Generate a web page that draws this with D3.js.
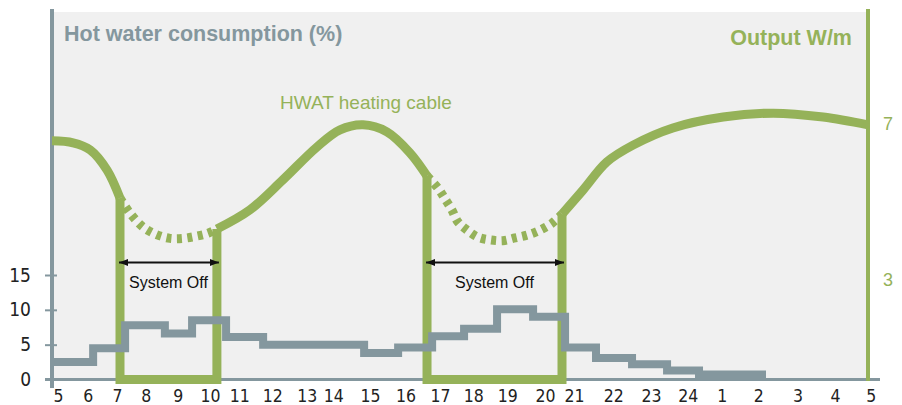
<!DOCTYPE html>
<html>
<head>
<meta charset="utf-8">
<script src="https://cdn.jsdelivr.net/npm/d3@7"></script>
<style>
  body { margin: 0; background: #fff; }
  svg { display: block; }
  .num { font-family: "Liberation Sans Narrow", "DejaVu Sans Condensed", sans-serif; font-size: 19px; fill: #222; }
  .hr { font-size: 17.5px; }
</style>
</head>
<body>
<script>
// hours since 5:00, x axis labels sit where they were put by hand
var hourLabels = ["5","6","7","8","9","10","11","12","13","14","15","16","17","18","19","20","21","22","23","24","1","2","3","4","5"];
var labelAt = [0.18,1.05,1.91,2.76,3.70,4.65,5.51,6.48,7.49,8.27,9.35,10.4,11.41,12.39,13.39,14.5,15.35,16.51,17.62,18.7,19.7,20.77,21.93,23.03,24.08];

// hot water consumption (%) step line
var stepEdges = [0,1.21,2.15,3.32,4.12,5.12,6.21,9.18,10.18,11.18,12.12,13.09,14.15,15.09,16.0,17.06,18.09,19.03,21.0];
var consumption = [2.5,4.5,7.8,6.6,8.5,6.1,5.0,3.8,4.6,6.2,7.3,10.1,9.0,4.6,3.1,2.2,1.3,0.7];

// HWAT heating cable output (W/m)
var cableHours = [0,0.62,1.12,1.62,2.0,2.29,2.68,3.09,3.47,3.85,4.21,4.59,4.85,5.82,6.79,7.79,8.47,9.15,9.85,10.53,11.03,11.35,11.56,11.76,11.94,12.21,12.53,12.88,13.26,13.62,14.0,14.35,14.71,15.0,15.62,16.32,17.09,18.26,19.74,21.21,22.68,24.0];
var cableOutput = [6.55,6.50,6.32,5.80,5.08,4.70,4.34,4.14,4.05,4.05,4.10,4.18,4.29,4.78,5.55,6.39,6.83,6.96,6.78,6.24,5.65,5.34,5.06,4.78,4.47,4.26,4.08,4.01,3.99,4.06,4.14,4.26,4.44,4.67,5.29,6.01,6.44,6.88,7.16,7.26,7.16,6.96];

var offPeriods = [[2.0,4.85],[11.03,15.0]];
var leftTicks = [0,5,10,15];
var rightTicks = [3,7];

var green = "#95b259", grey = "#84979e";

var svg = d3.select("body").append("svg")
    .attr("width", 902)
    .attr("height", 405);

var x = d3.scaleLinear().domain([0,24]).range([52,868]);
var yL = d3.scaleLinear().domain([0,15]).range([379.5,275]);
var yR = d3.scaleLinear().domain([3,7]).range([279.3,123.3]);

// plot area
svg.append("rect")
    .attr("x", x(0)).attr("y", 12)
    .attr("width", x(24)-x(0)).attr("height", 369)
    .attr("fill", "#f0f0f0");

// base line
svg.append("line")
    .attr("x1", 45).attr("x2", 880)
    .attr("y1", yL(0)).attr("y2", yL(0))
    .attr("stroke", grey).attr("stroke-width", 3);

// axes lines
svg.append("line")
    .attr("x1", x(0)).attr("x2", x(0)).attr("y1", 9).attr("y2", 388)
    .attr("stroke", grey).attr("stroke-width", 4);
svg.append("line")
    .attr("x1", x(24)).attr("x2", x(24)).attr("y1", 9).attr("y2", 381)
    .attr("stroke", green).attr("stroke-width", 4);

var gl = svg.append("g")
    .attr("transform", "translate(57,0)")
    .call(d3.axisLeft(yL).tickValues(leftTicks).tickSize(12).tickPadding(14));
gl.select(".domain").remove();
gl.selectAll("line").attr("stroke", grey).attr("stroke-width", 2);
gl.selectAll("text").attr("class", "num").attr("font-size", null).attr("font-family", null);

var gb = svg.append("g")
    .attr("transform", "translate(0," + yL(0) + ")")
    .call(d3.axisBottom(x).tickValues(labelAt).tickSize(0).tickPadding(10)
      .tickFormat(function(d, i) { return hourLabels[i]; }));
gb.select(".domain").remove();
gb.selectAll("text").attr("class", "num hr").attr("font-size", null).attr("font-family", null);

var gr = svg.append("g")
    .attr("transform", "translate(" + x(24) + ",0)")
    .call(d3.axisRight(yR).tickValues(rightTicks).tickSize(0).tickPadding(15)
      .tickFormat(d3.format("d")));
gr.select(".domain").remove();
gr.selectAll("text")
    .attr("font-family", "'Liberation Sans', Arial, sans-serif")
    .attr("font-size", 18)
    .attr("fill", green);

// heating cable curve, dashed while the system is off
var cable = cableHours.map(function(h, i) { return [h, cableOutput[i]]; });
var bounds = [0].concat(offPeriods[0], offPeriods[1], [24]);
var cableLine = d3.line()
    .x(function(d) { return x(d[0]); })
    .y(function(d) { return yR(d[1]); })
    .curve(d3.curveCatmullRom);
for (var i = 0; i < bounds.length - 1; i++) {
  var seg = cable.filter(function(d) { return d[0] >= bounds[i] && d[0] <= bounds[i+1]; });
  svg.append("path")
      .attr("d", cableLine(seg))
      .attr("fill", "none")
      .attr("stroke", green)
      .attr("stroke-width", 9)
      .attr("stroke-dasharray", i % 2 ? "5,5.5" : null);
}

// system off boxes
var outAt = function(h) { return cableOutput[cableHours.indexOf(h)]; };
offPeriods.forEach(function(p) {
  var a = p[0], b = p[1];
  svg.append("path")
      .attr("d", "M" + x(a) + "," + yR(outAt(a)) + "L" + x(a) + "," + yL(0) +
                 "L" + x(b) + "," + yL(0) + "L" + x(b) + "," + yR(outAt(b)))
      .attr("fill", "none")
      .attr("stroke", green)
      .attr("stroke-width", 9)
      .attr("stroke-linejoin", "miter");
});

// consumption steps
var steps = stepEdges.map(function(e, i) {
  return [e, consumption[Math.min(i, consumption.length - 1)]];
});
svg.append("path")
    .attr("d", d3.line()
      .x(function(d) { return x(d[0]); })
      .y(function(d) { return yL(d[1]); })
      .curve(d3.curveStepAfter)(steps))
    .attr("fill", "none")
    .attr("stroke", grey)
    .attr("stroke-width", 8);

// arrows + labels
var defs = svg.append("defs");
["s","e"].forEach(function(k) {
  defs.append("marker")
      .attr("id", "arr-" + k)
      .attr("viewBox", "0 0 10 10")
      .attr("refX", k == "e" ? 10 : 0).attr("refY", 5)
      .attr("markerWidth", 9).attr("markerHeight", 9)
      .attr("markerUnits", "userSpaceOnUse")
      .attr("orient", "auto")
    .append("path")
      .attr("d", k == "e" ? "M0,1L10,5L0,9Z" : "M10,1L0,5L10,9Z")
      .attr("fill", "#111");
});
offPeriods.forEach(function(p) {
  svg.append("line")
      .attr("x1", x(p[0]) - 1).attr("x2", x(p[1]) + 2)
      .attr("y1", 262.5).attr("y2", 262.5)
      .attr("stroke", "#111").attr("stroke-width", 2)
      .attr("marker-start", "url(#arr-s)")
      .attr("marker-end", "url(#arr-e)");
  svg.append("text")
      .attr("x", (x(p[0]) + x(p[1])) / 2)
      .attr("y", 288)
      .attr("text-anchor", "middle")
      .attr("font-family", "'Liberation Sans', Arial, sans-serif")
      .attr("font-size", 16)
      .attr("fill", "#111")
      .text("System Off");
});

// titles
svg.append("text")
    .attr("x", 64).attr("y", 41)
    .attr("font-family", "'Liberation Sans', Arial, sans-serif")
    .attr("font-weight", "bold").attr("font-size", 21.5)
    .attr("fill", grey)
    .text("Hot water consumption (%)");
svg.append("text")
    .attr("x", 852).attr("y", 45)
    .attr("text-anchor", "end")
    .attr("font-family", "'Liberation Sans', Arial, sans-serif")
    .attr("font-weight", "bold").attr("font-size", 21.5)
    .attr("fill", green)
    .text("Output W/m");
svg.append("text")
    .attr("x", 280).attr("y", 109)
    .attr("font-family", "'Liberation Sans', Arial, sans-serif")
    .attr("font-size", 19)
    .attr("fill", green)
    .text("HWAT heating cable");
</script>
</body>
</html>
